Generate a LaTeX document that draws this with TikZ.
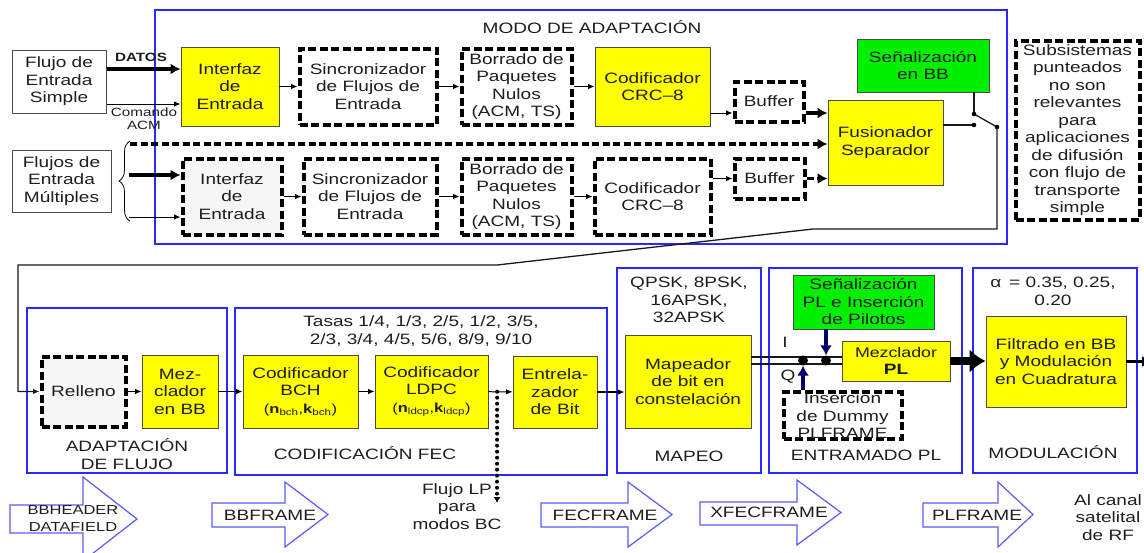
\documentclass[tikz,border=0pt]{standalone}
\usepackage{fontspec}
\setmainfont{Liberation Sans}[FakeStretch=1.27]
\usetikzlibrary{arrows.meta,calc,decorations.pathreplacing}
\definecolor{dvbyellow}{HTML}{FFFF00}
\definecolor{dvbgreen}{HTML}{00F000}
\definecolor{dvbblue}{HTML}{2828FF}
\definecolor{dvbarrow}{HTML}{5A5AF5}
\definecolor{dvbnavy}{HTML}{00006E}
\definecolor{dvbtext}{HTML}{1E1E1E}
\definecolor{dvbfog}{HTML}{F6F6F6}
\newcommand\framearrow[7]{%
  \draw[framearr] (#1,#4) -- (#2,#4) -- (#2,#6) -- (#3,{(#6+#7)/2}) -- (#2,#7) -- (#2,#5) -- (#1,#5) -- cycle;}

\begin{document}
\begin{tikzpicture}[x=1pt, y=-1pt,
    every node/.style={font=\fontsize{15}{17.5}\selectfont, text=dvbtext, align=center, inner sep=0pt},
    ybox/.style={draw=black!70, line width=0.9pt, fill=dvbyellow},
    gbox/.style={draw=black!70, line width=0.9pt, fill=dvbgreen},
    wbox/.style={draw=black!70, line width=1pt, fill=white},
    dbox/.style={draw=black, line width=4pt, dash pattern=on 8pt off 3.5pt, fill=#1},
    dbox/.default=white,
    section/.style={draw=dvbblue, line width=1.2pt},
    framearr/.style={draw=dvbarrow, line width=1.2pt, fill=white},
    wire/.style={draw=black!90, line width=1.3pt},
    arr/.style={-{Latex[length=6.5pt,width=5.5pt]}, line width=1pt},
    fatarr/.style={-{Latex[length=10pt,width=11pt]}, line width=3.5pt},
    dasharr/.style={fatarr, dash pattern=on 7pt off 3.5pt},
    dotarr/.style={-{Latex[length=6pt,width=7pt]}, line width=4pt, line cap=round, dash pattern=on 0pt off 6pt},
    navyarr/.style={-{Latex[length=10pt,width=12pt]}, draw=dvbnavy, line width=3.5pt},
    hugearr/.style={-{Latex[length=16pt,width=24pt]}, line width=8pt},
    dot/.style={circle, fill=black, minimum size=10pt},
]
\useasboundingbox (0,0) rectangle (1144,552);

% sections
\draw[section] (155,10) rectangle (1007,244);
\draw[section] (27,308) rectangle (227,473);
\draw[section] (235,308) rectangle (607,475);
\draw[section] (617,268) rectangle (761,473);
\draw[section] (769,268) rectangle (962,473);
\draw[section] (973,268) rectangle (1137,473);

% frame arrows
\framearrow{10}{83}{137}{505}{533}{477}{561}
\framearrow{212}{285}{328}{503}{527}{482}{547}
\framearrow{541}{628}{672}{503}{527}{482}{547}
\framearrow{700}{797}{841}{502}{525}{480}{545}
\framearrow{923}{998}{1033}{503}{527}{482}{547}

% modo de adaptacion
\node (modo) at (592,27) {MODO DE ADAPTACIÓN};
\node[wbox, minimum width=94pt, minimum height=63pt] (fes) at (59,81.5) {Flujo de\\Entrada\\Simple};
\node[font=\bfseries\fontsize{12}{14}\selectfont] (datos) at (141,57) {DATOS};
\node[font=\fontsize{12}{13}\selectfont] (acm) at (144,118.5) {Comando\\ACM};
\node[ybox, minimum width=98pt, minimum height=79pt] (ie1) at (230,86.5) {Interfaz\\de\\Entrada};
\node[dbox, minimum width=137pt, minimum height=76pt] (sinc1) at (368,86.5) {Sincronizador\\de Flujos de\\Entrada};
\node[dbox, minimum width=110pt, minimum height=76pt] (borr1) at (516.5,86.5) {Borrado de\\Paquetes\\Nulos\\(ACM, TS)};
\node[ybox, minimum width=115pt, minimum height=79pt] (crc1) at (652.5,86.5) {Codificador\\CRC--8};
\node[dbox, minimum width=69pt, minimum height=40pt] (buf1) at (769,101.5) {Buffer};
\node[ybox, minimum width=115pt, minimum height=85pt] (fus) at (885.5,142.5) {Fusionador\\Separador};
\node[gbox, minimum width=132pt, minimum height=53pt] (sbb) at (923,65.5) {Señalización\\en BB};
\node[dbox, minimum width=124pt, minimum height=179pt] (subsis) at (1077.5,130) {Subsistemas\\punteados\\no son\\relevantes\\para\\aplicaciones\\de difusión\\con flujo de\\transporte\\simple};

\node[wbox, minimum width=99pt, minimum height=62pt] (fem) at (61.5,181) {Flujos de\\Entrada\\Múltiples};
\node[dbox=dvbfog, minimum width=99pt, minimum height=76pt] (ie2) at (232,196.5) {Interfaz\\de\\Entrada};
\node[dbox, minimum width=133pt, minimum height=76pt] (sinc2) at (370,196.5) {Sincronizador\\de Flujos de\\Entrada};
\node[dbox, minimum width=110pt, minimum height=76pt] (borr2) at (516.5,196.5) {Borrado de\\Paquetes\\Nulos\\(ACM, TS)};
\node[dbox, minimum width=116pt, minimum height=76pt] (crc2) at (652.5,196.5) {Codificador\\CRC--8};
\node[dbox, minimum width=70pt, minimum height=40pt] (buf2) at (769.5,178.5) {Buffer};

\coordinate (datosin) at ([yshift=17.5pt]ie1.west);
\coordinate (acmin) at ([yshift=-17.5pt]ie1.west);
\draw[fatarr] (fes.east |- datosin) -- (datosin);
\draw[arr] (fes.east |- acmin) -- (acmin);
\foreach \a/\b in {ie1/sinc1, sinc1/borr1, borr1/crc1, ie2/sinc2, sinc2/borr2, borr2/crc2}
    \draw[arr] (\a) -- (\b);
\coordinate (b1in) at ([yshift=-11.5pt]buf1.west);
\draw[arr] (crc1.east |- b1in) -- (b1in);
\draw[fatarr] (buf1.east |- b1in) -- (fus.west |- b1in);
\draw[arr] (crc2.east |- buf2.west) -- (buf2.west);
\draw[dasharr] (buf2.east) -- (fus.west |- buf2.east);

% multiple inputs
\draw[line width=0.8pt, decorate, decoration={brace, amplitude=11pt}] (130,221) -- (130,141);
\coordinate (mul1) at (129,175);
\coordinate (mul2) at (129,217);
\coordinate (mulctl) at (130,144);
\draw[fatarr] (mul1) -- (ie2.west |- mul1);
\draw[arr] (mul2) -- (ie2.west |- mul2);
\draw[dasharr] (mulctl) -- (fus.west |- mulctl);

% adaptacion de flujo
\node (adlbl) at (127,454) {ADAPTACIÓN\\DE FLUJO};
\node[dbox=dvbfog, minimum width=84pt, minimum height=70pt] (relleno) at (83.5,391.5) {Relleno};
\node[ybox, minimum width=76pt, minimum height=73pt] (mezbb) at (180,391.5) {Mez-\\clador\\en BB};

% switch and return path
\coordinate (swup) at (974,114);
\coordinate (swdn) at (974,125);
\coordinate (swpole) at (997,127);
\draw[wire] (sbb.south -| swup) -- (swup);
\draw[wire] (fus.east |- swdn) -- (swdn);
\draw[wire] (swup) -- (swpole);
\foreach \p in {swup, swdn, swpole}
    \fill (\p) circle (2.3pt);
\draw[wire, arr, line width=1.3pt] (swpole) -- (997,229) -- (813,229) -- (497,265) -- (18,265) |- (relleno.west);

% codificacion FEC
\node (tasas) at (421,331) {Tasas 1/4, 1/3, 2/5, 1/2, 3/5,\\2/3, 3/4, 4/5, 5/6, 8/9, 9/10};
\node[ybox, minimum width=115pt, minimum height=73pt] (bch) at (300.5,391.5) {Codificador\\BCH\\{\fontsize{13}{15}\selectfont(\textbf{n}\textsubscript{bch},\textbf{k}\textsubscript{bch})}};
\node[ybox, minimum width=113pt, minimum height=73pt] (ldpc) at (431.5,391.5) {Codificador\\LDPC\\{\fontsize{13}{15}\selectfont(\textbf{n}\textsubscript{ldcp},\textbf{k}\textsubscript{ldcp})}};
\node[ybox, minimum width=84pt, minimum height=72pt] (entr) at (555,392) {Entrela-\\zador\\de Bit};
\node (feclbl) at (365,453) {CODIFICACIÓN FEC};
\foreach \a/\b in {relleno/mezbb, mezbb/bch, bch/ldpc, ldpc/entr}
    \draw[arr] (\a) -- (\b);

\coordinate (lptap) at ($(ldpc.east)!0.36!(entr.west)$);
\coordinate (lpend) at (497,503);
\draw[dotarr] (lptap) -- (lpend);
\node (lp) at (457,506.5) {Flujo LP\\para\\modos BC};

% mapeo
\node (qpsk) at (689,300) {QPSK, 8PSK,\\16APSK,\\32APSK};
\node[ybox, minimum width=126pt, minimum height=93pt] (map) at (688,381.5) {Mapeador\\de bit en\\constelación};
\node (maplbl) at (689,456) {MAPEO};
\draw[arr, line width=2pt] (entr.east) -- (map.west |- entr.east);

% entramado PL
\node[gbox, minimum width=141pt, minimum height=54pt] (spl) at (863.5,302) {Señalización\\PL e Inserción\\de Pilotos};
\node[ybox, minimum width=108pt, minimum height=40pt] (mpl) at (896,361) {{\fontsize{14}{16}\selectfont Mezclador}\\\textbf{PL}};
\node[dbox, minimum width=118pt, minimum height=46pt] (dummy) at (842.5,415.5) {Inserción\\de Dummy\\PLFRAME};
\node (entlbl) at (866,455) {ENTRAMADO PL};
\node (ilbl) at (785,342) {I};
\node (qlbl) at (788,377) {Q};
\coordinate (ich) at ([yshift=24.5pt]map.east);
\coordinate (qch) at ([yshift=17.5pt]map.east);
\draw[wire] (ich) -- (mpl.west |- ich);
\draw[wire] (qch) -- (mpl.west |- qch);
\node[dot] (dotq) at (803,360.5) {};
\node[dot] (doti) at (826,360.5) {};
\draw[navyarr] (spl.south -| doti) -- (doti.north);
\draw[navyarr] (dummy.north -| dotq) -- (dotq.south);

% modulacion
\node (alpha) at (1053,291.5) {α\, = 0.35, 0.25,\\0.20};
\node[ybox, minimum width=140pt, minimum height=91pt] (filt) at (1056,361.5) {Filtrado en BB\\y Modulación\\en Cuadratura};
\node (modlbl) at (1053,452) {MODULACIÓN};
\draw[hugearr] (mpl.east) -- (filt.west |- mpl.east);
\coordinate (rfout) at (1152,361.5);
\draw[fatarr] (filt.east) -- (rfout);

% frame labels
\node[font=\fontsize{13}{17}\selectfont] (bbheader) at (73,518.5) {BBHEADER\\DATAFIELD};
\node (bbframe) at (270,515) {BBFRAME};
\node (fecframe) at (605,515) {FECFRAME};
\node (xfecframe) at (769,512) {XFECFRAME};
\node (plframe) at (977,515) {PLFRAME};
\node (rf) at (1108,517.5) {Al canal\\satelital\\de RF};
\end{tikzpicture}
\end{document}
